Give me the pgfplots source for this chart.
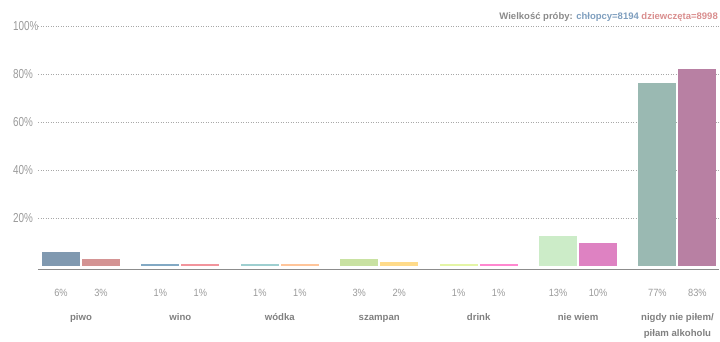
\documentclass[border=0pt]{standalone}
\usepackage{fontspec}
\setmainfont{Liberation Sans}
\newfontfamily\narrowfont[FakeStretch=0.76]{Liberation Sans}
\newfontfamily\midfont[FakeStretch=0.88]{Liberation Sans}
\usepackage{pgfplots}
\pgfplotsset{compat=1.18}
\definecolor{labgray}{HTML}{9A9A9A}
\definecolor{namegray}{HTML}{808080}
\definecolor{gridgray}{HTML}{A8A8A8}
\definecolor{axisgray}{HTML}{8C8C8C}
\definecolor{titlegray}{HTML}{8A8A8A}
\definecolor{boyblue}{HTML}{7E9EBE}
\definecolor{girlrose}{HTML}{D98E8E}
\definecolor{cAa}{HTML}{8099B0}
\definecolor{cAb}{HTML}{D49494}
\definecolor{cBa}{HTML}{82A9C4}
\definecolor{cBb}{HTML}{F2949C}
\definecolor{cCa}{HTML}{9ECFD0}
\definecolor{cCb}{HTML}{FFC59A}
\definecolor{cDa}{HTML}{C9E2A2}
\definecolor{cDb}{HTML}{FFDB8A}
\definecolor{cEa}{HTML}{E4F5A6}
\definecolor{cEb}{HTML}{FF88D0}
\definecolor{cFa}{HTML}{CCECC8}
\definecolor{cFb}{HTML}{DE82C2}
\definecolor{cGa}{HTML}{9AB9B2}
\definecolor{cGb}{HTML}{B880A3}
\begin{document}
\begin{tikzpicture}[x=1pt,y=1pt]
\useasboundingbox (0,0) rectangle (720,342);
\begin{axis}[
  at={(38pt,72.7pt)}, anchor=south west,
  scale only axis, width=681pt, height=242.9pt,
  xmin=-0.4326, xmax=6.418, ymin=-1.2, ymax=100,
  axis x line*=bottom, axis y line*=left,
  y axis line style={draw=none},
  x axis line style={draw=axisgray, line width=1.2pt, -},
  ytick={20,40,60,80,100},
  yticklabels={20\%,40\%,60\%,80\%,100\%},
  yticklabel style={anchor=west, inner sep=0pt, xshift=-25pt,
    font=\narrowfont\fontsize{13}{13}\selectfont, text=labgray},
  ymajorgrids,
  grid style={dash pattern=on 1pt off 1.5pt, line width=0.7pt, draw=gridgray},
  major tick length=0pt,
  xtick={-0.2012,0.2012,0.7988,1.2012,1.7988,2.2012,2.7988,3.2012,3.7988,4.2012,4.7988,5.2012,5.7988,6.2012},
  xticklabels={6\%,3\%,1\%,1\%,1\%,1\%,3\%,2\%,1\%,1\%,13\%,10\%,77\%,83\%},
  xticklabel style={anchor=center, inner sep=0pt, yshift=-24pt,
    font=\midfont\fontsize{10.5}{10.5}\selectfont, text=labgray},
  extra x ticks={0,1,2,3,4,5,6},
  extra x tick labels={piwo,wino,wódka,szampan,drink,nie wiem,{\begin{tabular}[t]{@{}c@{}}nigdy nie piłem/\\piłam alkoholu\end{tabular}}},
  extra x tick style={grid=none,
    xticklabel style={anchor=base, yshift=-27.7pt,
      font=\bfseries\fontsize{9.6}{16}\selectfont, text=namegray}},
]
\addplot[ybar, bar width=38pt, bar shift=-20pt, fill=cAa, draw=none] coordinates {(0,6)};
\addplot[ybar, bar width=38pt, bar shift=20pt, fill=cAb, draw=none] coordinates {(0,3)};
\addplot[ybar, bar width=38pt, bar shift=-20pt, fill=cBa, draw=none] coordinates {(1,1.2)};
\addplot[ybar, bar width=38pt, bar shift=20pt, fill=cBb, draw=none] coordinates {(1,1.2)};
\addplot[ybar, bar width=38pt, bar shift=-20pt, fill=cCa, draw=none] coordinates {(2,1.2)};
\addplot[ybar, bar width=38pt, bar shift=20pt, fill=cCb, draw=none] coordinates {(2,1.2)};
\addplot[ybar, bar width=38pt, bar shift=-20pt, fill=cDa, draw=none] coordinates {(3,3.2)};
\addplot[ybar, bar width=38pt, bar shift=20pt, fill=cDb, draw=none] coordinates {(3,2)};
\addplot[ybar, bar width=38pt, bar shift=-20pt, fill=cEa, draw=none] coordinates {(4,1.2)};
\addplot[ybar, bar width=38pt, bar shift=20pt, fill=cEb, draw=none] coordinates {(4,1.2)};
\addplot[ybar, bar width=38pt, bar shift=-20pt, fill=cFa, draw=none] coordinates {(5,12.8)};
\addplot[ybar, bar width=38pt, bar shift=20pt, fill=cFb, draw=none] coordinates {(5,9.9)};
\addplot[ybar, bar width=38pt, bar shift=-20pt, fill=cGa, draw=none] coordinates {(6,76.5)};
\addplot[ybar, bar width=38pt, bar shift=20pt, fill=cGb, draw=none] coordinates {(6,82.3)};
\end{axis}
\node[anchor=base east, inner sep=0pt, font=\bfseries\fontsize{9.5}{9.5}\selectfont]
  at (718,322.5) {\textcolor{titlegray}{Wielkość próby:} \textcolor{boyblue}{chłopcy=8194} \textcolor{girlrose}{dziewczęta=8998}};
\end{tikzpicture}
\end{document}
